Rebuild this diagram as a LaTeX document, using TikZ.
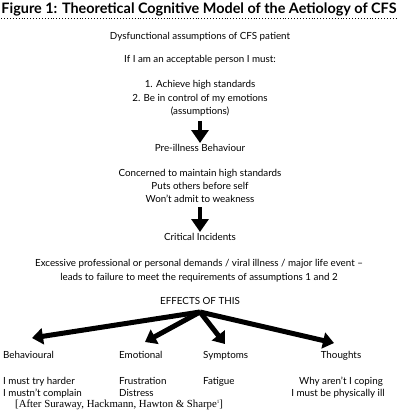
\documentclass[tikz,border=0pt]{standalone}
\usepackage{fontspec}
\setmainfont{Lato}
\newfontfamily\citefont{Liberation Serif}
\usetikzlibrary{arrows.meta}
\begin{document}
\begin{tikzpicture}[x=1pt,y=1pt,
  txt/.style={inner sep=0pt,anchor=base,font=\fontsize{9.8}{11}\selectfont},
  txtw/.style={txt,anchor=base west},
  vbig/.style={line width=4pt,-{Triangle[length=13pt,width=17pt]}},
  fan/.style={line width=5pt,-{Triangle[length=11pt,width=16pt]}}]
\useasboundingbox (0,0) rectangle (400,-420);
\node[inner sep=0pt,anchor=base,font=\fontsize{14.4}{16}\selectfont\bfseries] (title) at (199,-14) {Figure 1: Theoretical Cognitive Model of the Aetiology of CFS};
\draw[dotted,line width=0.9pt] (title.south west) ++(0,-2) coordinate (ul) -- (ul -| title.south east);
\node[txt] (dys) at (200,-40) {Dysfunctional assumptions of CFS patient};
\node[txt] (if) at (200,-63) {If I am an acceptable person I must:};
\node[txt] (a1) at (200,-88) {1. Achieve high standards};
\node[txt] (a2) at (200,-101) {2. Be in control of my emotions};
\node[txt] (a3) at (200,-114) {(assumptions)};
\node[txt] (pre) at (200,-151) {Pre-illness Behaviour};
\node[txt] (c1) at (200,-176) {Concerned to maintain high standards};
\node[txt] (c2) at (200,-189) {Puts others before self};
\node[txt] (c3) at (200,-202) {Won't admit to weakness};
\node[txt] (crit) at (200,-240) {Critical Incidents};
\node[txt] (e1) at (199,-266) {Excessive professional or personal demands / viral illness / major life event --};
\node[txt] (e2) at (199,-280) {leads to failure to meet the requirements of assumptions 1 and 2};
\node[txt] (eff) at (200,-304) {EFFECTS OF THIS};
\node[txtw] (beh) at (3,-358) {Behavioural};
\node[txtw] (emo) at (119,-358) {Emotional};
\node[txtw] (sym) at (203,-358) {Symptoms};
\node[txt] (tho) at (341,-358) {Thoughts};
\node[txtw] (b1) at (3,-384) {I must try harder};
\node[txtw] (b2) at (3,-396) {I mustn't complain};
\node[txtw] (m1) at (119,-384) {Frustration};
\node[txtw] (m2) at (119,-396) {Distress};
\node[txtw] (s1) at (203,-384) {Fatigue};
\node[txt] (t1) at (341,-384) {Why aren't I coping};
\node[txt] (t2) at (338,-396) {I must be physically ill};
\node[inner sep=0pt,anchor=base west,font=\citefont\fontsize{10.8}{12}\selectfont] (cite) at (15,-407) {[After Suraway, Hackmann, Hawton \& Sharpe{\fontsize{5}{6}\selectfont\raisebox{3.5pt}{1}}]};
% vertical arrows
\draw[vbig] (a3.south) ++(0,-5) coordinate (s1top) -- (pre.north |- 0,-143);
\draw[vbig] (c3.south) ++(0,-5) coordinate (s2top) -- (crit.north |- 0,-232);
% fan arrows
\coordinate (o) at (200,-312);
\coordinate (tb) at (32,-338);
\coordinate (tm) at (145,-342);
\coordinate (ts) at (225,-344);
\coordinate (tt) at (334,-343);
\draw[fan] (eff.south |- o) -- (tb);
\draw[fan] (eff.south |- o) -- (tm);
\draw[fan] (eff.south |- o) -- (ts);
\draw[fan] (eff.south |- o) -- (tt);
\end{tikzpicture}
\end{document}
